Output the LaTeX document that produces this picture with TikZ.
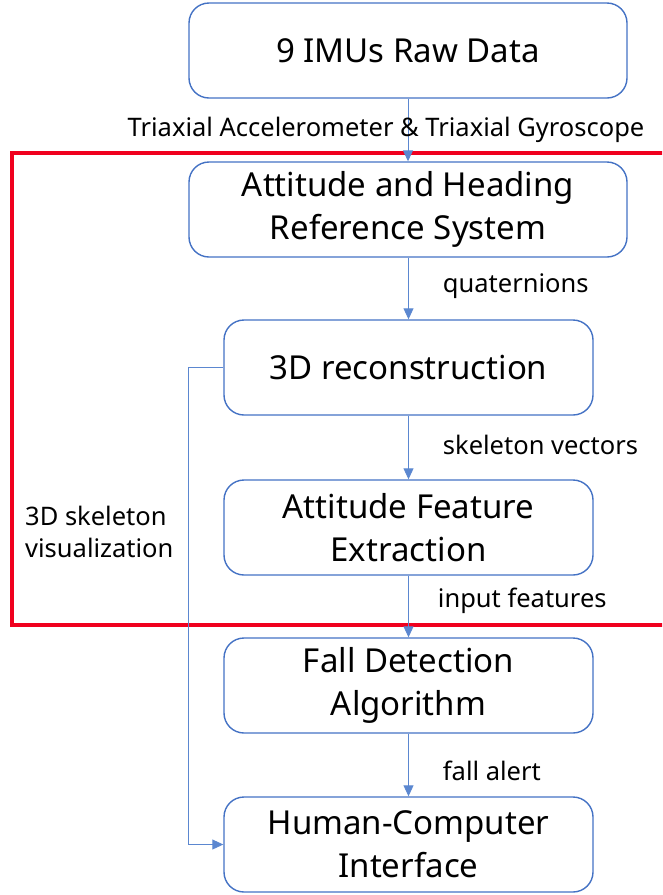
\documentclass[tikz,border=0pt]{standalone}
\usepackage{fontspec}
\setmainfont{Noto Sans}
\usetikzlibrary{arrows.meta}
\definecolor{boxblue}{HTML}{4472C4}
\definecolor{linkblue}{HTML}{5B87D0}
\definecolor{framered}{HTML}{F0001E}
\begin{document}
\begin{tikzpicture}[x=1pt,y=-1pt,
  stage/.style={draw=boxblue,line width=1.4pt,rounded corners=20pt,
    align=center,inner sep=0pt,font=\fontsize{33}{43}\selectfont},
  widestage/.style={stage,minimum width=438pt,minimum height=95pt},
  narrowstage/.style={stage,minimum width=369pt,minimum height=95pt},
  link/.style={draw=linkblue,line width=0.9pt,-{Triangle[length=11pt,width=10pt]}},
  tag/.style={font=\fontsize{25.5}{32}\selectfont,inner sep=0pt}]
\useasboundingbox (0,0) rectangle (662,895);
\clip (0,0) rectangle (662,895);

% processing stages
\node[widestage] (raw) at (408,50.5) {9 IMUs Raw Data};
\node[widestage] (ahrs) at (408,209.5) {Attitude and Heading\\Reference System};
\node[narrowstage] (recon) at (408.5,367.5) {3D reconstruction};
\node[narrowstage] (feat) at (408.5,527.5) {Attitude Feature\\Extraction};
\node[narrowstage] (fall) at (408.5,685.5) {Fall Detection\\Algorithm};
\node[narrowstage] (hci) at (408.5,844.5) {Human-Computer\\Interface};

% frame around the attitude-processing stages
\draw[framered,line width=3.5pt] (670,153) -- (12,153) -- (12,625) -- (670,625);

% data flow
\draw[link] (raw.south) -- (ahrs.north)
  node[tag,pos=0.5,xshift=-22pt] (l1) {Triaxial Accelerometer \& Triaxial Gyroscope};
\draw[link] (ahrs.south -| recon.north) -- (recon.north)
  node[tag,pos=0.46,anchor=west,xshift=34pt] (l2) {quaternions};
\draw[link] (recon.south) -- (feat.north)
  node[tag,pos=0.46,anchor=west,xshift=34pt] (l3) {skeleton vectors};
\draw[link] (feat.south) -- (fall.north)
  node[tag,pos=0.41,anchor=west,xshift=29pt] (l4) {input features};
\draw[link] (fall.south) -- (hci.north)
  node[tag,pos=0.59,anchor=west,xshift=34pt] (l5) {fall alert};

% visualization branch
\coordinate (bend) at (188,0);
\draw[link] (recon.west) -- (recon.west -| bend) -- (hci.west -| bend) -- (hci.west);
\node[tag,align=left,anchor=west] (vis) at (25,532) {3D skeleton\\visualization};
\end{tikzpicture}
\end{document}
